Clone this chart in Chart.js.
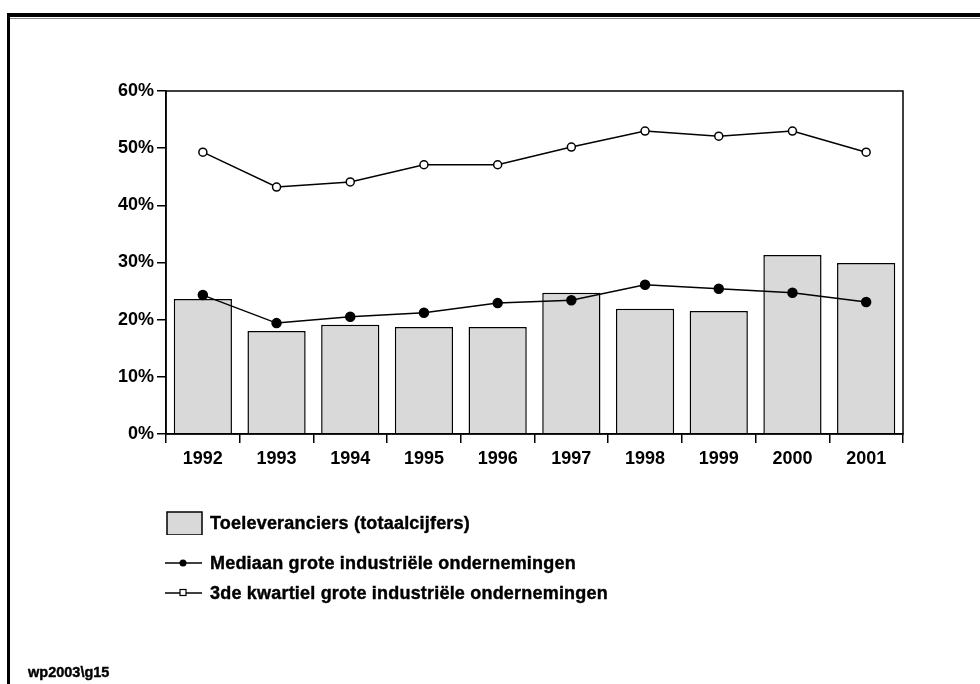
<!DOCTYPE html>
<html>
<head>
<meta charset="utf-8">
<script src="https://cdn.jsdelivr.net/npm/chart.js@4"></script>
<style>
  html, body { margin: 0; padding: 0; background: #fff; }
  #wrap { position: relative; width: 980px; height: 684px; overflow: hidden;
          font-family: "Liberation Sans", Arial, sans-serif; font-weight: bold; }
  #frameTop { position: absolute; left: 7px; top: 13px; width: 980px; height: 4px; background: #000; }
  #frameTop2 { position: absolute; left: 10px; top: 18px; width: 980px; height: 1px; background: #888; }
  #frameLeft { position: absolute; left: 7px; top: 13px; width: 3px; height: 700px; background: #000; }
  canvas { position: absolute; left: 0; top: 0; }
  .leg { position: absolute; left: 165px; font-size: 18px; color: #000; height: 24px; line-height: 24px; }
  .leg span.txt { position: absolute; left: 45px; top: 0; white-space: nowrap; letter-spacing: 0.2px;
                  -webkit-text-stroke: 0.4px #000; }
  #note { position: absolute; left: 28px; top: 663px; font-size: 14.5px; line-height: 18px; color: #000;
          -webkit-text-stroke: 0.4px #000; }
</style>
</head>
<body>
<div id="wrap">
  <canvas id="myChart" width="980" height="684"></canvas>
  <div id="frameTop"></div>
  <div id="frameTop2"></div>
  <div id="frameLeft"></div>
  <div class="leg" style="top:511px">
    <svg width="40" height="24" style="position:absolute;left:0;top:0"><rect x="2" y="1" width="35" height="23" fill="#d9d9d9" stroke="#000" stroke-width="1.5"/></svg>
    <span class="txt">Toeleveranciers (totaalcijfers)</span>
  </div>
  <div class="leg" style="top:551px">
    <svg width="40" height="24" style="position:absolute;left:0;top:0"><line x1="0" y1="12" x2="37" y2="12" stroke="#000" stroke-width="1.5"/><circle cx="18" cy="12" r="3.5" fill="#000"/></svg>
    <span class="txt">Mediaan grote industriële ondernemingen</span>
  </div>
  <div class="leg" style="top:581px">
    <svg width="40" height="24" style="position:absolute;left:0;top:0"><line x1="0" y1="12" x2="37" y2="12" stroke="#000" stroke-width="1.5"/><rect x="15" y="8.5" width="6" height="6" fill="#fff" stroke="#000" stroke-width="1.2"/></svg>
    <span class="txt">3de kwartiel grote industriële ondernemingen</span>
  </div>
  <div id="note">wp2003\g15</div>
</div>
<script>
const years = ['1992','1993','1994','1995','1996','1997','1998','1999','2000','2001'];
const toeleveranciers = [23.6, 18.0, 19.1, 18.7, 18.7, 24.7, 21.9, 21.5, 31.3, 29.9];
const mediaan = [24.3, 19.4, 20.5, 21.2, 22.9, 23.4, 26.1, 25.4, 24.7, 23.1];
const kwartiel3 = [49.3, 43.2, 44.1, 47.1, 47.1, 50.2, 53.0, 52.1, 53.0, 49.3];
const yTicks = [0, 10, 20, 30, 40, 50, 60];

// box around plot area (top and right edges)
const boxPlugin = {
    id: 'box',
    afterDraw(chart) {
        const a = chart.chartArea, ctx = chart.ctx;
        ctx.save();
        ctx.strokeStyle = '#000';
        ctx.lineWidth = 1.5;
        ctx.strokeRect(a.left, a.top, a.right - a.left, a.bottom - a.top);
        ctx.restore();
    }
};

const tickFont = { family: 'Liberation Sans', weight: 'bold', size: 18 };

const ctx = document.getElementById('myChart').getContext('2d');
new Chart(ctx, {
    data: {
        labels: years,
        datasets: [
            {
                type: 'line',
                label: '3de kwartiel grote industriële ondernemingen',
                data: kwartiel3,
                borderColor: '#000',
                borderWidth: 1.5,
                pointRadius: 4,
                pointBackgroundColor: '#fff',
                pointBorderColor: '#000',
                pointBorderWidth: 1.5,
                tension: 0,
                order: 1
            },
            {
                type: 'line',
                label: 'Mediaan grote industriële ondernemingen',
                data: mediaan,
                borderColor: '#000',
                borderWidth: 1.5,
                pointRadius: 4.5,
                pointBackgroundColor: '#000',
                pointBorderColor: '#000',
                tension: 0,
                order: 1
            },
            {
                type: 'bar',
                label: 'Toeleveranciers (totaalcijfers)',
                data: toeleveranciers,
                backgroundColor: '#d9d9d9',
                borderColor: '#000',
                borderWidth: 1.5,
                categoryPercentage: 1,
                barPercentage: 0.79,
                order: 2
            }
        ]
    },
    options: {
        responsive: false,
        animation: false,
        layout: { padding: { left: 106, right: 77, top: 91, bottom: 210 } },
        plugins: { legend: { display: false }, tooltip: { enabled: false } },
        scales: {
            x: {
                offset: true,
                grid: { offset: true, drawOnChartArea: false, color: '#000', lineWidth: 1.5, tickLength: 9 },
                border: { color: '#000', width: 1.5 },
                ticks: { color: '#000', font: tickFont, padding: 5 },
                afterFit(s) { s.height = 40; }
            },
            y: {
                min: 0, max: 60,
                afterBuildTicks(s) { s.ticks = yTicks.map(v => ({ value: v })); },
                grid: { drawOnChartArea: false, color: '#000', lineWidth: 1.5, tickLength: 9 },
                border: { color: '#000', width: 1.5 },
                ticks: { color: '#000', font: tickFont, padding: 3,
                         callback: v => v + '%' },
                afterFit(s) { s.width = 60; }
            }
        }
    },
    plugins: [boxPlugin]
});
</script>
</body>
</html>
